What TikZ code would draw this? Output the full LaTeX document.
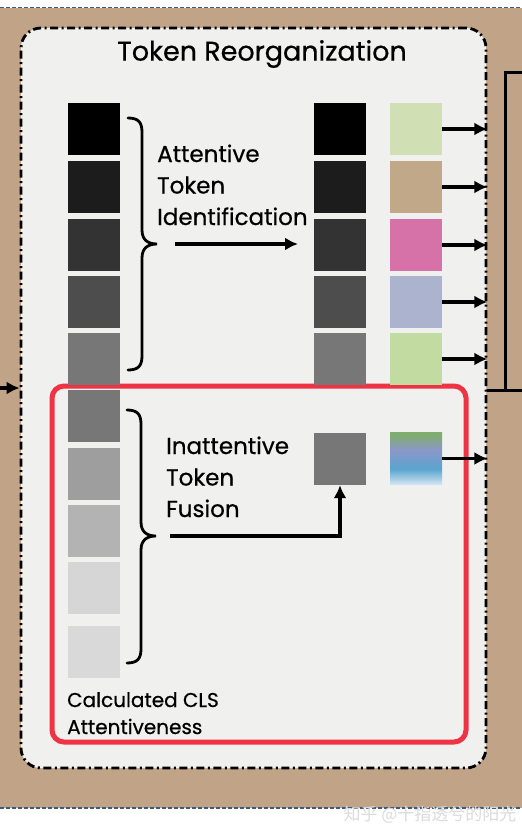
\documentclass[tikz,border=0pt]{standalone}
\usepackage{fontspec}
\setmainfont{Poppins}[FakeBold=0.6]
\newfontfamily\cjkfont{Noto Sans CJK SC}
\usetikzlibrary{arrows.meta,calc}
\definecolor{bgbrown}{HTML}{C1A487}
\definecolor{panel}{HTML}{F0F0EF}
\definecolor{dashblue}{HTML}{3E5A80}
\definecolor{redbox}{HTML}{EE3344}
\definecolor{g1}{HTML}{000000}
\definecolor{g2}{HTML}{1C1C1C}
\definecolor{g3}{HTML}{333333}
\definecolor{g4}{HTML}{4D4D4D}
\definecolor{g5}{HTML}{777777}
\definecolor{g6}{HTML}{777777}
\definecolor{g7}{HTML}{9E9E9E}
\definecolor{g8}{HTML}{B3B3B3}
\definecolor{g9}{HTML}{D6D6D6}
\definecolor{g10}{HTML}{D9D9D9}
\definecolor{c1}{HTML}{D0E0B4}
\definecolor{c2}{HTML}{C0A888}
\definecolor{c3}{HTML}{D672A8}
\definecolor{c4}{HTML}{ABB3CF}
\definecolor{c5}{HTML}{C2DBA0}
\definecolor{fgreen}{HTML}{7FAE6E}
\definecolor{flav}{HTML}{8A97C8}
\definecolor{fblue}{HTML}{5AA5CF}
\definecolor{flight}{HTML}{D2E5F2}
\pgfdeclareverticalshading{fusshade}{100bp}{color(0bp)=(flight); color(25bp)=(flight); color(40bp)=(fblue); color(58bp)=(flav); color(73bp)=(fgreen); color(100bp)=(fgreen)}
\tikzset{
  tok/.style={draw=none, minimum width=52pt, minimum height=52pt, inner sep=0pt},
  lbl/.style={font=\fontsize{23}{31.5}\selectfont, align=left, inner sep=0pt, anchor=base west},
  arr/.style={line width=3.2pt, -{Latex[length=13pt,width=13pt]}},
  brace/.style={line width=2.8pt, line cap=round},
}
\begin{document}
\begin{tikzpicture}[x=1pt,y=-1pt]
\useasboundingbox (0,0) rectangle (522,838);
% background
\fill[white] (0,0) rectangle (522,838);
\fill[bgbrown] (0,8) rectangle (522,808);
\draw[dashblue, line width=1.2pt, dash pattern=on 4pt off 2pt] (0,7.5) -- (522,7.5);
\draw[dashblue, line width=1.2pt, dash pattern=on 4pt off 2pt] (0,808) -- (522,808);
% panel
\node[draw, line width=2.8pt, fill=panel, rounded corners=20pt, dash pattern=on 8pt off 3.5pt on 2pt off 3.5pt,
      minimum width=465pt, minimum height=740pt, inner sep=0pt] (frame) at (253.5,398) {};
\node[font=\fontsize{27}{32}\selectfont] (title) at (262,54) {Token Reorganization};
% red box
\node[draw=redbox, line width=5pt, rounded corners=12pt, minimum width=414pt, minimum height=356pt, inner sep=0pt] (red) at (259,564) {};
% left column
\foreach \i/\y in {1/129,2/187,3/245,4/302,5/359,6/416,7/474,8/531,9/587.5,10/652}{
  \node[tok, fill=g\i] (l\i) at (94,\y) {};
}
% middle column
\foreach \i/\y in {1/129,2/187,3/245,4/302,5/359}{
  \node[tok, fill=g\i] (m\i) at (340,\y) {};
}
\node[tok, fill=g5] (mf) at (340,459) {};
% right column
\foreach \i/\y in {1/129,2/187,3/245,4/302,5/359}{
  \node[tok, fill=c\i] (r\i) at (416,\y) {};
}
\node[tok, shading=fusshade] (rf) at (416,458.5) {};
% right arrows
\foreach \n in {r1,r2,r3,r4,r5,rf}{
  \draw[arr] (\n.east) -- (\n.east -| frame.east);
}
% braces
\draw[brace] (128,118) .. controls (138,118) and (142,122) .. (142,132) -- (142,230)
  .. controls (142,240) and (148,244) .. (157,244) .. controls (148,244) and (142,248) .. (142,258)
  -- (142,356) .. controls (142,366) and (138,370) .. (128,370);
\draw[brace] (127,410) .. controls (137,410) and (141,414) .. (141,424) -- (141,522)
  .. controls (141,532) and (147,536) .. (156,536) .. controls (147,536) and (141,540) .. (141,550)
  -- (141,649) .. controls (141,659) and (137,663) .. (127,663);
% labels
\node[lbl] (att) at (157,225) {Attentive\\Token\\Identification};
\node[lbl] (inatt) at (166,517) {Inattentive\\Token\\Fusion};
\node[lbl, font=\fontsize{20}{27}\selectfont] (cls) at (67,734) {Calculated CLS\\Attentiveness};
% attentive arrow
\coordinate (a0) at (175,244);
\coordinate (a1) at (298,244);
\draw[arr] (a0) -- (a1);
% fusion arrow
\coordinate (f0) at (170,536);
\draw[line width=3.6pt, -{Latex[length=13pt,width=13pt]}] (f0) -- (f0 -| mf.south) -- (mf.south);
% input arrow
\coordinate (in0) at (0,388);
\draw[arr] (in0) -- (in0 -| frame.west);
% right side lines
\coordinate (t0) at (522,72);
\coordinate (t1) at (505,72);
\coordinate (b1) at (505,390);
\coordinate (b2) at (522,390);
\draw[line width=3pt] (t0) -- (t1) -- (b1);
\draw[line width=3pt] (frame.east |- b1) -- (b2);
% watermark
\node[font=\cjkfont\fontsize{17}{17}\selectfont, text=black!14] (wm) at (430,815) {知乎 @十指透兮的阳光};
\end{tikzpicture}
\end{document}
